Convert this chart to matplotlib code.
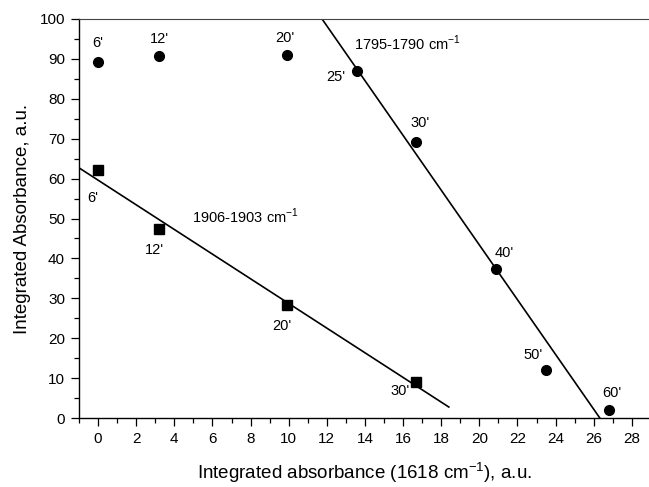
import numpy as np
import matplotlib
matplotlib.use('Agg')
import matplotlib.pyplot as plt
from matplotlib.ticker import MultipleLocator

plt.rcParams['font.family'] = ['Liberation Sans', 'DejaVu Sans']
plt.rcParams['mathtext.fontset'] = 'custom'
plt.rcParams['mathtext.rm'] = 'Liberation Sans'

# 1795-1790 band (circles)
circ_x = [0.0, 3.18, 9.92, 13.59, 16.7, 20.9, 23.49, 26.8]
circ_y = [89.3, 90.7, 91.1, 87.0, 69.2, 37.3, 12.0, 2.0]
circ_lab = ["6'", "12'", "20'", "25'", "30'", "40'", "50'", "60'"]
circ_off = [(0, 19), (1, 17), (-2, 17), (-21, -6), (4, 19), (8, 16), (-13, 15), (3, 17)]

# 1906-1903 band (squares)
sq_x = [0.0, 3.18, 9.92, 16.67]
sq_y = [62.2, 47.4, 28.2, 8.9]
sq_lab = ["6'", "12'", "20'", "30'"]
sq_off = [(-5, -28), (-4, -21), (-5, -21), (-16, -9)]

# fitted lines (end points)
fit1_x = [-1.0, 18.4]
fit1_y = [62.7, 2.75]
fit2_x = [11.75, 26.32]
fit2_y = [100.0, 0.0]

fig = plt.figure(figsize=(6.49, 4.87), dpi=100)
ax = fig.add_axes([79/649, 1-418/487, 1-79/649, (418-19)/487])

ax.plot(fit1_x, fit1_y, color='black', lw=1.2)
ax.plot(fit2_x, fit2_y, color='black', lw=1.2)
ax.plot(circ_x, circ_y, 'o', color='black', ms=7)
ax.plot(sq_x, sq_y, 's', color='black', ms=6.5)

for x, y, t, (dx, dy) in zip(circ_x, circ_y, circ_lab, circ_off):
    ax.annotate(t, (x, y), xytext=(dx, dy), textcoords='offset pixels',
                ha='center', va='center', fontsize=10.5)
for x, y, t, (dx, dy) in zip(sq_x, sq_y, sq_lab, sq_off):
    ax.annotate(t, (x, y), xytext=(dx, dy), textcoords='offset pixels',
                ha='center', va='center', fontsize=10.5)

ax.text(4.95, 50.5, r'1906-1903 cm$^{\mathregular{-1}}$', fontsize=10.5, va='center')
ax.text(13.4, 94.0, r'1795-1790 cm$^{\mathregular{-1}}$', fontsize=10.5, va='center')

ax.set_xlim(-1, 28.9)
ax.set_ylim(0, 100)
ax.xaxis.set_major_locator(MultipleLocator(2))
ax.xaxis.set_minor_locator(MultipleLocator(1))
ax.yaxis.set_major_locator(MultipleLocator(10))
ax.yaxis.set_minor_locator(MultipleLocator(5))
ax.tick_params(which='major', direction='out', length=6, width=0.9, labelsize=11, pad=4)
ax.tick_params(which='minor', direction='out', length=3.5, width=0.9)
ax.spines['right'].set_visible(False)
for s in ['left', 'bottom']:
    ax.spines[s].set_linewidth(1.0)
ax.spines['top'].set_linewidth(0.8)
ax.spines['top'].set_color('#444444')

ax.set_xlabel(r'Integrated absorbance (1618 cm$^{\mathregular{-1}}$), a.u.', fontsize=13.5, labelpad=10)
ax.set_ylabel('Integrated Absorbance, a.u.', fontsize=13.5, labelpad=6)

fig.savefig('out.png', dpi=100)
